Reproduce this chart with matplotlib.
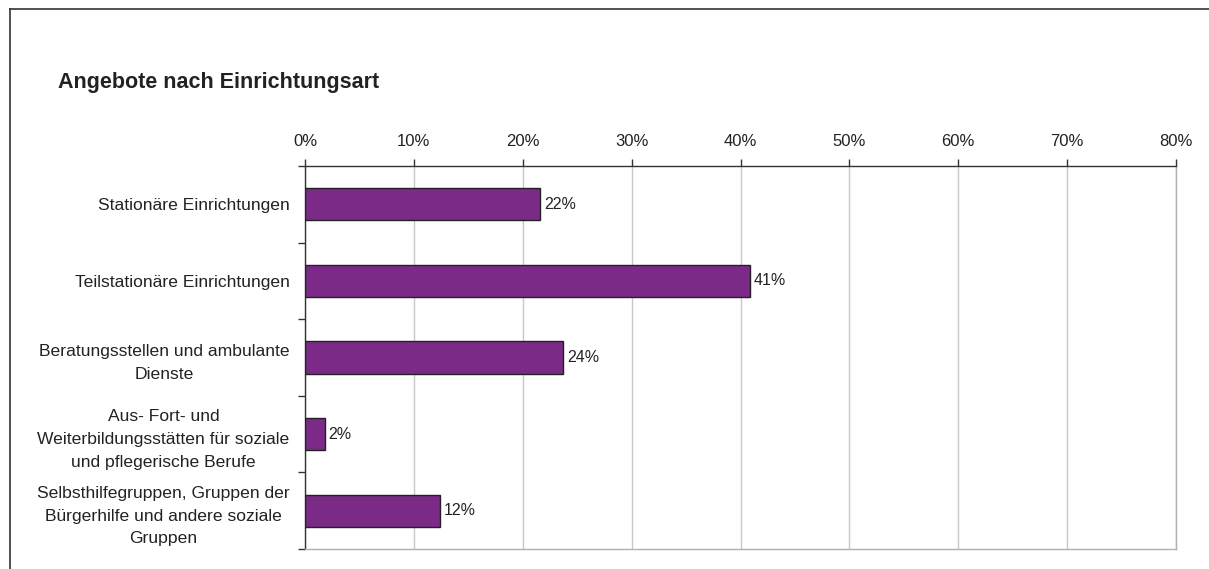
import numpy as np
import matplotlib.pyplot as plt
from matplotlib.lines import Line2D
from matplotlib.ticker import FixedLocator, PercentFormatter

plt.rcParams["font.family"] = ["Liberation Sans", "DejaVu Sans"]

title = "Angebote nach Einrichtungsart"
categories = [
    "Stationäre Einrichtungen",
    "Teilstationäre Einrichtungen",
    "Beratungsstellen und ambulante\nDienste",
    "Aus- Fort- und\nWeiterbildungsstätten für soziale\nund pflegerische Berufe",
    "Selbsthilfegruppen, Gruppen der\nBürgerhilfe und andere soziale\nGruppen",
]
values = [21.6, 40.9, 23.7, 1.8, 12.4]
labels = ["22%", "41%", "24%", "2%", "12%"]
xticks = [0, 10, 20, 30, 40, 50, 60, 70, 80]

W, H = 1209, 569
fig = plt.figure(figsize=(W / 100, H / 100), dpi=100)
ax = fig.add_axes([305 / W, 1 - 549 / H, (1176 - 305) / W, (549 - 166) / H])

y = np.arange(len(categories))
ax.barh(y, values, height=0.42, color="#7B2A88", edgecolor="#222222", linewidth=1, zorder=3)
for yi, v, lab in zip(y, values, labels):
    ax.text(v + 0.35, yi, lab, va="center", ha="left", fontsize=11.5, color="#222222")

ax.set_xlim(0, 80)
ax.set_ylim(len(categories) - 0.5, -0.5)
ax.xaxis.tick_top()
ax.set_xticks(xticks)
ax.xaxis.set_major_formatter(PercentFormatter(decimals=0))
ax.tick_params(axis="x", direction="out", length=5, width=1, color="#333333",
               labelsize=12, labelcolor="#222222", pad=7)
ax.grid(axis="x", color="#c8c8c8", linewidth=1, zorder=0)

ax.set_yticks(y)
ax.set_yticklabels(categories, fontsize=12.6, color="#222222", ha="right",
                   multialignment="center")
for lbl in ax.get_yticklabels():
    lbl.set_linespacing(1.65)
ax.tick_params(axis="y", which="major", length=0, pad=11)
ax.yaxis.set_minor_locator(FixedLocator(np.arange(-0.5, len(categories), 1.0)))
ax.tick_params(axis="y", which="minor", length=5, width=1, color="#333333", direction="out")

ax.spines["top"].set_color("#333333")
ax.spines["left"].set_color("#333333")
ax.spines["right"].set_color("#b0b0b0")
ax.spines["bottom"].set_color("#b0b0b0")
for s in ax.spines.values():
    s.set_linewidth(1)

fig.text(58 / W, 1 - 83 / H, title, fontsize=15.5, fontweight="bold", color="#222222",
         ha="left", va="center")

# outer frame (left and top edges visible)
fx, fy = 10 / W, 1 - 9 / H
fig.add_artist(Line2D([fx, fx], [0, fy], transform=fig.transFigure, color="#333333", linewidth=1.2))
fig.add_artist(Line2D([fx, 1], [fy, fy], transform=fig.transFigure, color="#333333", linewidth=1.2))

fig.savefig("out.png", dpi=100)
